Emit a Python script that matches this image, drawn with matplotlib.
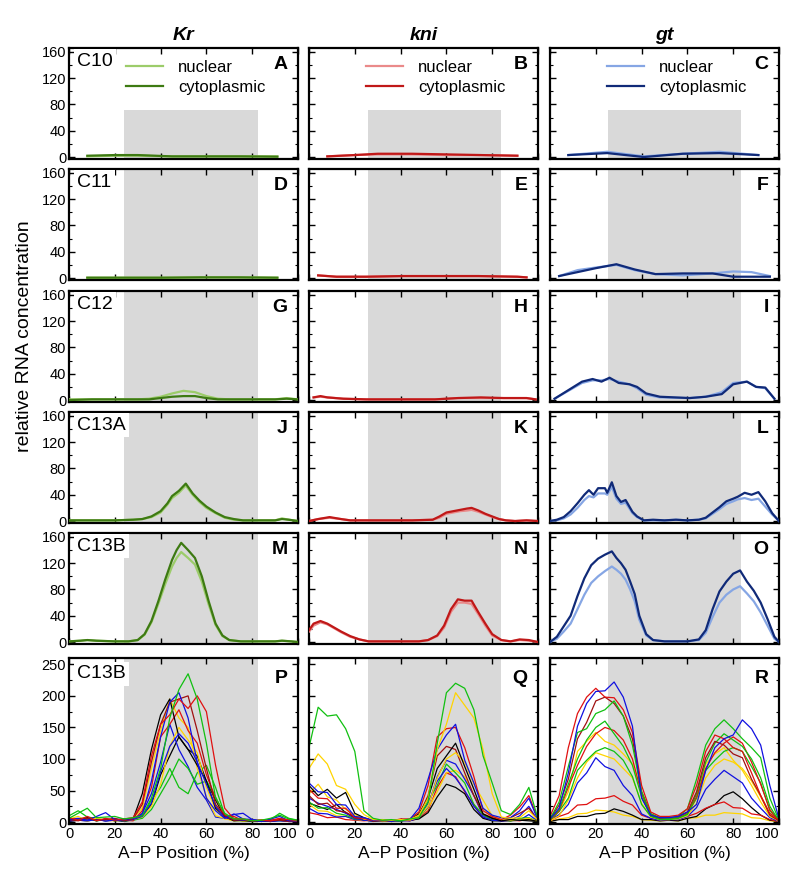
import numpy as np
import matplotlib.pyplot as plt
from matplotlib.ticker import MultipleLocator

plt.rcParams['font.family'] = ['Liberation Sans', 'DejaVu Sans']

genes = ['Kr', 'kni', 'gt']
cycles = ['C10', 'C11', 'C12', 'C13A', 'C13B', 'C13B']
letters = ['ABC', 'DEF', 'GHI', 'JKL', 'MNO', 'PQR']
nuc_colors = ['#9ccc6a', '#ea8a8a', '#86a6e4']
cyt_colors = ['#3d7a12', '#c01818', '#102a78']
shade = [(24.2, 82.5), (25.7, 84.0), (25.4, 83.2)]
xticks = [0, 20, 40, 60, 80, 100]
xtick_labels = ['0', '20', '40', '60', '80', '100']

# averaged profiles, rows C10..C13B, columns Kr, kni, gt: (x, nuclear, cytoplasmic)
avg = {
    (0, 0): ([8, 20, 30, 45, 60, 75, 91],
             [1, 2, 2, 1, 1, 1, 1],
             [2, 3, 3, 1, 1, 1, 0.5]),
    (0, 1): ([8, 20, 30, 45, 60, 75, 91],
             [1, 3, 4, 4, 3, 3, 2],
             [1, 3, 5, 5, 4, 3, 2]),
    (0, 2): ([8, 25, 41, 58, 74, 91],
             [3, 8, 1, 5, 8, 3],
             [3, 6, 0, 5, 6, 3]),
    (1, 0): ([8, 25, 41, 58, 74, 91],
             [0.5, 0.5, 0.5, 1, 1, 0.5],
             [0.5, 0.5, 0.5, 1, 1, 0.5]),
    (1, 1): ([4, 12, 25, 41, 58, 74, 91, 95],
             [4, 2, 2, 3, 3, 3, 2, 1],
             [4, 2, 2, 3, 3, 3, 2, 1]),
    (1, 2): ([4, 12, 20, 29, 37, 46, 58, 71, 80, 88, 96],
             [3, 12, 16, 20, 12, 6, 4, 7, 10, 9, 3],
             [3, 9, 15, 21, 13, 6, 7, 7, 2, 2, 2]),
    (2, 0): ([0, 10, 20, 30, 35, 40, 45, 50, 55, 60, 65, 70, 80, 90, 95, 100],
             [1, 1, 1, 1, 2, 5, 10, 14, 12, 6, 2, 1, 1, 1, 3, 1],
             [0, 1, 1, 1, 1, 3, 5, 6, 6, 3, 1, 1, 1, 1, 2, 1]),
    (2, 1): ([2, 5, 8, 15, 25, 40, 55, 65, 75, 85, 95, 99],
             [4, 5, 4, 2, 1, 1, 1, 3, 3, 3, 3, 1],
             [4, 6, 4, 2, 1, 1, 1, 3, 4, 3, 3, 1]),
    (2, 2): ([2, 14, 18.6, 22.5, 26, 30, 34.7, 38, 42, 48, 61, 68, 75, 80, 86, 90, 94, 98],
             [2, 26, 30, 30, 32, 28, 24, 18, 8, 4, 3, 5, 12, 26, 28, 20, 18, 2],
             [2, 28, 32, 28, 34, 26, 24, 20, 10, 5, 3, 5, 9, 24, 28, 20, 19, 2]),
    (3, 0): ([0, 10, 20, 28, 32, 36, 40, 43, 45, 48, 51, 54, 57, 60, 64, 68, 72, 76, 80, 85, 90, 93, 96, 100],
             [1, 1, 1, 2, 3, 6, 13, 25, 35, 43, 54, 40, 29, 20, 12, 5, 2, 1, 1, 1, 1, 4, 2, 0],
             [1, 1, 1, 2, 3, 7, 15, 27, 38, 46, 57, 42, 31, 22, 13, 6, 3, 1, 1, 1, 1, 3, 2, 0]),
    (3, 1): ([0, 4, 9, 14, 18, 25, 35, 45, 54, 57, 60, 63, 66, 69, 71, 74, 77, 80, 83, 86, 90, 95, 100],
             [0, 3, 5, 3, 1, 1, 1, 1, 2, 5, 11, 13, 15, 16, 17, 14, 10, 6, 3, 1, 0, 1, 0],
             [0, 3, 6, 3, 1, 1, 1, 1, 2, 7, 13, 15, 17, 19, 20, 16, 11, 7, 3, 1, 0, 1, 0]),
    (3, 2): ([0, 3, 6, 9, 12, 15, 17, 19, 21, 24, 25, 27, 29, 31, 33, 36, 38, 41, 45, 50, 55, 60, 65, 68,
              71, 74, 77, 80, 82, 85, 88, 91, 94, 97, 100],
             [0, 1, 4, 10, 20, 32, 38, 36, 42, 42, 40, 52, 34, 26, 28, 12, 6, 1, 1, 1, 2, 1, 2, 4,
              11, 18, 26, 30, 33, 35, 32, 34, 22, 10, 0],
             [0, 2, 6, 15, 27, 40, 47, 40, 50, 50, 43, 59, 38, 29, 32, 14, 7, 1, 2, 1, 2, 1, 2, 5,
              13, 21, 30, 34, 37, 43, 40, 44, 30, 12, 0]),
    (4, 0): ([0, 5, 8, 12, 20, 26, 30, 33, 36, 39, 42, 45, 47, 49, 52, 55, 58, 61, 64, 67, 70, 75, 80, 90, 93, 97, 100],
             [1, 2, 3, 2, 1, 1, 3, 11, 30, 58, 88, 115, 128, 137, 128, 118, 92, 57, 26, 9, 3, 1, 1, 1, 2, 1, 0],
             [1, 2, 3, 2, 1, 1, 3, 12, 32, 62, 95, 125, 140, 151, 140, 128, 100, 62, 28, 10, 3, 1, 1, 1, 2, 1, 0]),
    (4, 1): ([0, 2, 5, 8, 11, 14, 18, 22, 26, 30, 40, 48, 52, 56, 59, 62, 65, 68, 71, 74, 77, 80, 84, 88, 92, 96, 100],
             [16, 25, 30, 27, 21, 15, 8, 4, 1, 1, 1, 1, 3, 9, 22, 46, 60, 60, 58, 42, 25, 10, 3, 1, 3, 2, 0],
             [18, 28, 32, 28, 22, 16, 9, 4, 1, 1, 1, 1, 3, 10, 25, 50, 65, 63, 63, 45, 28, 12, 3, 1, 4, 3, 0]),
    (4, 2): ([0, 3, 6, 9, 12, 15, 18, 21, 24, 27, 29, 31, 33, 35, 37, 39, 42, 45, 50, 55, 60, 65, 68,
              71, 74, 77, 80, 83, 86, 89, 92, 95, 98, 100],
             [0, 5, 16, 28, 50, 72, 90, 100, 108, 115, 110, 104, 95, 80, 62, 34, 10, 3, 1, 1, 1, 3, 14,
              38, 60, 72, 80, 85, 74, 62, 45, 25, 5, 0],
             [0, 8, 24, 40, 70, 97, 117, 127, 133, 138, 128, 120, 110, 92, 73, 40, 12, 3, 1, 1, 1, 4, 18,
              50, 77, 92, 104, 109, 92, 78, 60, 35, 8, 0]),
}

# single-embryo profiles for the bottom row
emb_x = [0, 4, 8, 12, 16, 20, 24, 28, 32, 36, 40, 44, 48, 52, 56, 60, 64, 68, 72, 76, 80, 84, 88, 92, 96, 100]
c_g, c_r, c_b, c_y, c_k, c_d = '#10c010', '#e01010', '#1010e0', '#ffd400', '#000000', '#a01010'
embryos = [
    [  # Kr
        (c_k, [1, 3, 2, 4, 2, 3, 1, 4, 10, 28, 75, 105, 135, 115, 105, 65, 35, 8, 4, 2, 1, 2, 1, 3, 1, 1]),
        (c_b, [2, 5, 3, 4, 2, 4, 5, 3, 14, 45, 95, 155, 115, 88, 55, 35, 8, 6, 12, 14, 4, 3, 2, 4, 2, 1]),
        (c_g, [10, 18, 8, 6, 3, 5, 2, 5, 8, 35, 55, 85, 55, 45, 78, 90, 55, 12, 6, 2, 3, 1, 4, 14, 6, 3]),
        (c_y, [5, 9, 2, 6, 3, 5, 2, 6, 22, 85, 145, 195, 165, 150, 85, 40, 10, 6, 2, 3, 1, 4, 2, 5, 2, 1]),
        (c_g, [4, 3, 5, 2, 4, 3, 2, 3, 6, 20, 45, 70, 100, 85, 60, 65, 40, 10, 3, 2, 1, 2, 3, 2, 2, 1]),
        (c_r, [6, 4, 5, 3, 4, 3, 3, 2, 18, 55, 135, 155, 178, 145, 125, 75, 38, 10, 9, 2, 3, 1, 3, 6, 3, 2]),
        (c_y, [3, 4, 2, 5, 3, 2, 3, 4, 8, 25, 60, 120, 150, 130, 110, 55, 20, 5, 3, 2, 2, 2, 2, 3, 2, 1]),
        (c_k, [3, 5, 7, 2, 5, 2, 4, 5, 45, 115, 170, 195, 135, 115, 90, 65, 22, 9, 2, 3, 1, 2, 1, 4, 2, 1]),
        (c_b, [2, 3, 2, 4, 2, 3, 2, 4, 9, 30, 80, 120, 140, 125, 95, 60, 25, 7, 4, 3, 2, 2, 1, 2, 1, 1]),
        (c_d, [4, 2, 6, 3, 4, 6, 2, 5, 28, 95, 155, 190, 195, 200, 145, 85, 28, 10, 3, 4, 2, 3, 2, 3, 1, 1]),
        (c_b, [4, 6, 3, 9, 15, 4, 4, 6, 12, 65, 135, 190, 205, 165, 95, 38, 18, 6, 13, 5, 4, 1, 5, 9, 2, 2]),
        (c_r, [7, 3, 9, 2, 6, 3, 5, 7, 32, 105, 155, 170, 195, 180, 200, 175, 90, 22, 5, 5, 2, 3, 2, 5, 4, 2]),
        (c_g, [6, 14, 22, 7, 8, 9, 5, 7, 10, 38, 85, 165, 210, 235, 195, 125, 38, 14, 5, 5, 2, 3, 6, 11, 5, 3]),
    ],
    [  # kni
        (c_r, [15, 12, 7, 8, 4, 3, 2, 3, 1, 2, 3, 2, 6, 18, 55, 78, 72, 48, 28, 7, 4, 2, 3, 2, 5, 1]),
        (c_y, [28, 18, 17, 10, 9, 4, 3, 2, 3, 1, 2, 4, 7, 22, 48, 78, 82, 72, 42, 22, 7, 5, 2, 5, 4, 1]),
        (c_k, [30, 25, 20, 28, 15, 8, 3, 2, 2, 2, 2, 3, 5, 15, 40, 60, 55, 45, 20, 6, 2, 2, 2, 3, 2, 1]),
        (c_b, [22, 14, 13, 8, 9, 4, 4, 1, 3, 2, 3, 2, 7, 24, 72, 98, 92, 68, 42, 10, 6, 2, 4, 3, 12, 1]),
        (c_g, [32, 22, 23, 14, 11, 5, 4, 2, 3, 1, 2, 4, 7, 32, 58, 92, 78, 62, 28, 12, 3, 4, 2, 6, 7, 1]),
        (c_b, [38, 30, 25, 20, 14, 6, 3, 2, 2, 2, 2, 3, 8, 30, 65, 85, 70, 50, 25, 8, 3, 2, 3, 10, 25, 2]),
        (c_d, [42, 28, 30, 18, 16, 7, 5, 2, 3, 1, 4, 3, 11, 42, 105, 120, 115, 78, 42, 13, 7, 3, 7, 14, 22, 2]),
        (c_y, [45, 60, 40, 35, 20, 12, 5, 3, 2, 2, 3, 3, 8, 25, 70, 100, 110, 95, 60, 35, 10, 4, 3, 4, 6, 1]),
        (c_k, [58, 42, 52, 38, 47, 14, 7, 2, 3, 2, 4, 4, 13, 38, 85, 105, 125, 88, 52, 13, 6, 2, 4, 3, 4, 1]),
        (c_r, [52, 38, 37, 22, 22, 7, 6, 2, 3, 2, 5, 5, 16, 58, 135, 148, 150, 118, 72, 18, 9, 4, 11, 24, 42, 5]),
        (c_b, [62, 48, 47, 28, 27, 9, 7, 3, 4, 1, 4, 4, 22, 68, 115, 138, 155, 98, 62, 22, 11, 7, 7, 18, 38, 3]),
        (c_y, [85, 108, 92, 58, 52, 28, 12, 4, 4, 3, 4, 4, 11, 38, 115, 155, 205, 185, 165, 115, 45, 8, 6, 7, 18, 3]),
        (c_g, [118, 182, 168, 170, 148, 112, 18, 6, 3, 4, 2, 5, 7, 32, 125, 205, 220, 212, 178, 105, 62, 18, 12, 28, 55, 5]),
    ],
    [  # gt
        (c_y, [1, 5, 7, 13, 14, 19, 18, 16, 11, 9, 4, 3, 2, 3, 2, 6, 7, 11, 11, 15, 14, 13, 7, 6, 2, 1]),
        (c_k, [1, 4, 4, 9, 9, 13, 14, 21, 17, 11, 4, 4, 2, 3, 2, 6, 9, 21, 28, 42, 48, 37, 23, 11, 3, 1]),
        (c_r, [2, 9, 14, 27, 28, 37, 38, 42, 33, 27, 11, 6, 3, 4, 4, 9, 14, 22, 28, 32, 23, 22, 13, 11, 4, 1]),
        (c_b, [3, 12, 28, 62, 78, 102, 88, 82, 58, 42, 13, 6, 3, 4, 4, 9, 23, 52, 68, 82, 72, 62, 38, 22, 7, 1]),
        (c_y, [2, 10, 35, 70, 95, 110, 105, 100, 85, 70, 30, 8, 4, 4, 6, 10, 30, 70, 90, 100, 95, 85, 65, 40, 12, 1]),
        (c_y, [3, 17, 48, 112, 128, 142, 128, 122, 108, 92, 48, 11, 4, 5, 5, 11, 38, 92, 108, 118, 98, 82, 58, 32, 9, 2]),
        (c_g, [3, 17, 38, 82, 98, 112, 118, 112, 98, 72, 28, 9, 4, 5, 7, 13, 38, 82, 98, 112, 118, 112, 88, 62, 18, 2]),
        (c_r, [3, 18, 55, 90, 120, 140, 150, 145, 130, 100, 45, 10, 6, 5, 8, 15, 40, 85, 110, 125, 135, 125, 95, 60, 20, 2]),
        (c_g, [4, 20, 60, 100, 130, 150, 160, 140, 120, 90, 40, 10, 5, 4, 6, 12, 45, 95, 125, 140, 130, 120, 100, 70, 25, 2]),
        (c_d, [5, 27, 68, 132, 158, 192, 198, 188, 168, 132, 48, 13, 6, 7, 9, 16, 48, 102, 128, 122, 108, 102, 68, 42, 11, 2]),
        (c_g, [5, 32, 88, 142, 148, 172, 178, 192, 168, 122, 48, 13, 7, 6, 9, 21, 68, 122, 148, 162, 148, 132, 118, 102, 38, 3]),
        (c_r, [9, 42, 118, 172, 198, 212, 198, 197, 178, 142, 58, 16, 9, 9, 11, 21, 58, 112, 138, 132, 118, 112, 78, 42, 14, 3]),
        (c_b, [5, 22, 78, 152, 188, 207, 208, 222, 198, 152, 38, 11, 7, 7, 9, 16, 28, 82, 118, 132, 138, 162, 148, 122, 58, 5]),
    ],
]

W, H = 800, 882
fig = plt.figure(figsize=(W / 100, H / 100), dpi=100)

col_left = [69, 309, 550]
col_w = 229
row_top = [48, 169, 291, 412, 533, 658]
row_h = [111, 111, 111, 111, 111, 166]

for r in range(6):
    for c in range(3):
        ax = fig.add_axes([col_left[c] / W, 1 - (row_top[r] + row_h[r]) / H,
                           col_w / W, row_h[r] / H])
        bottom_row = r == 5
        ylim = (-3, 260) if bottom_row else (-3, 166)
        top = 72 if r == 0 else ylim[1]
        ax.fill_between(shade[c], ylim[0], top, color='#d9d9d9', lw=0, zorder=0)

        if bottom_row:
            for col, ys in embryos[c]:
                ax.plot(emb_x, ys, color=col, lw=0.9, zorder=2)
        else:
            x, nuc, cyt = avg[(r, c)]
            ax.plot(x, nuc, color=nuc_colors[c], lw=1.6, label='nuclear', zorder=3)
            ax.plot(x, cyt, color=cyt_colors[c], lw=1.6, label='cytoplasmic', zorder=4)

        ax.set_xlim(0, 100)
        ax.set_ylim(*ylim)
        ax.set_xticks(xticks)
        if bottom_row:
            ax.yaxis.set_major_locator(MultipleLocator(50))
            ax.yaxis.set_minor_locator(MultipleLocator(25))
        else:
            ax.yaxis.set_major_locator(MultipleLocator(40))
            ax.yaxis.set_minor_locator(MultipleLocator(20))
        ax.tick_params(which='both', direction='in', top=True, right=True,
                       labelsize=10.5, pad=2)
        ax.tick_params(which='major', length=4, width=1)
        ax.tick_params(which='minor', length=2.5, width=0.8)
        if c != 0:
            ax.set_yticklabels([])
        if not bottom_row:
            ax.set_xticklabels([])
        else:
            lbls = ax.set_xticklabels(xtick_labels)
            lbls[-1].set_horizontalalignment('right')
            ax.set_xlabel('A\u2212P Position (%)', fontsize=12.5, labelpad=4)
        for s in ax.spines.values():
            s.set_linewidth(1.6)

        if c == 0:
            ax.text(0.035, 0.955, cycles[r], transform=ax.transAxes, fontsize=14,
                    va='top', ha='left', zorder=5,
                    bbox=dict(facecolor='white', edgecolor='none', pad=2.5))
        ax.text(0.955, 0.93, letters[r][c], transform=ax.transAxes, fontsize=14,
                fontweight='bold', va='top', ha='right', zorder=5)

        if r == 0:
            ax.legend(loc='upper left', bbox_to_anchor=(0.2, 1.0), frameon=False,
                      fontsize=12, handlelength=2.2, handletextpad=0.9,
                      labelspacing=0.3, borderaxespad=0.3)
            ax.set_title(genes[c], fontsize=14, fontweight='bold', style='italic', pad=6)

fig.text(25 / W, 1 - 336 / H, 'relative RNA concentration', rotation=90,
         fontsize=14, ha='center', va='center')

fig.savefig('out.png', dpi=100)
